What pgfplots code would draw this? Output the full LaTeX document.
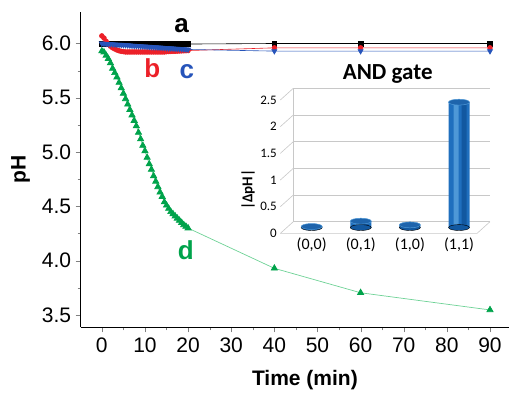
\documentclass[border=0pt]{standalone}
\usepackage{fontspec}
\setmainfont{Liberation Sans}
\newfontfamily\calfont{Carlito}
\usepackage{pgfplots}
\pgfplotsset{compat=1.18}
\definecolor{cB}{RGB}{236,32,40}
\definecolor{cC}{RGB}{38,84,186}
\definecolor{cD}{RGB}{0,163,75}
\definecolor{cDl}{RGB}{110,210,150}
\definecolor{barmain}{RGB}{31,111,190}
\definecolor{bartop}{RGB}{30,100,172}
\definecolor{barlight}{RGB}{78,152,215}
\definecolor{barright}{RGB}{18,88,160}
\definecolor{gridc}{RGB}{200,200,200}
\begin{document}
\begin{tikzpicture}
\path[use as bounding box] (-80.7pt,-66.7pt) rectangle (430.3pt,327.3pt);
\begin{axis}[
  at={(0,0)}, anchor=south west,
  scale only axis, width=428.7pt, height=315.3pt,
  xmin=-4.9, xmax=94.5, ymin=3.387, ymax=6.29,
  axis lines*=left,
  tick align=outside,
  xtick={0,10,...,90}, minor x tick num=1,
  ytick={3.5,4,4.5,5,5.5,6}, minor y tick num=1,
  major tick length=5pt, minor tick length=3pt,
  /pgf/number format/assume math mode=true,
  ticklabel style={font=\fontsize{21}{21}\selectfont},
  xticklabel style={yshift=-2pt},
  yticklabel style={xshift=-1pt, /pgf/number format/.cd, fixed, fixed zerofill, precision=1},
  xlabel={Time (min)}, ylabel={pH},
  label style={font=\fontsize{21}{21}\selectfont\bfseries},
  xlabel style={at={(axis description cs:0.523,0)}, anchor=center, yshift=-52.7pt},
  ylabel style={at={(axis description cs:-0.1405,0.5)}, anchor=center},
  clip=false,
]
% d
\addplot[color=cDl, line width=0.7pt, mark=triangle*, mark size=3.6pt, mark options={fill=cD, draw=cD}] coordinates {
(0,5.93)(0.5,5.92)(1,5.89)(1.5,5.86)(2,5.82)(2.5,5.77)(3,5.73)(3.5,5.69)(4,5.64)(4.5,5.59)
(5,5.54)(5.5,5.49)(6,5.44)(6.5,5.39)(7,5.34)(7.5,5.29)(8,5.24)(8.5,5.18)(9,5.12)(9.5,5.06)
(10,5.01)(10.5,4.95)(11,4.89)(11.5,4.84)(12,4.78)(12.5,4.73)(13,4.68)(13.5,4.63)(14,4.59)(14.5,4.54)
(15,4.51)(15.5,4.48)(16,4.45)(16.5,4.43)(17,4.41)(17.5,4.39)(18,4.37)(18.5,4.35)(19,4.33)(19.5,4.315)
(20,4.30)(40,3.93)(60,3.705)(90,3.547)};
% a
\addplot[color=black, line width=0.6pt, mark=square*, mark size=2.4pt, mark options={fill=black}] coordinates {
(0,5.995)(0.5,5.995)(1,5.995)(1.5,5.995)(2,5.995)(2.5,5.995)(3,5.995)(3.5,5.995)(4,5.995)(4.5,5.995)
(5,5.995)(5.5,5.995)(6,5.995)(6.5,5.995)(7,5.995)(7.5,5.995)(8,5.995)(8.5,5.995)(9,5.995)(9.5,5.995)
(10,5.995)(10.5,5.995)(11,5.995)(11.5,5.995)(12,5.995)(12.5,5.995)(13,5.995)(13.5,5.995)(14,5.995)(14.5,5.995)
(15,5.995)(15.5,5.995)(16,5.995)(16.5,5.995)(17,5.995)(17.5,5.995)(18,5.995)(18.5,5.995)(19,5.995)(19.5,5.995)
(20,5.995)(40,6.0)(60,6.0)(90,6.0)};
% b
\addplot[color=cB, line width=0.6pt, mark=*, mark size=2.4pt, mark options={fill=cB}] coordinates {
(0,6.07)(0.5,6.05)(1,6.02)(1.5,5.995)(2,5.975)(2.5,5.96)(3,5.95)(3.5,5.94)(4,5.933)(4.5,5.928)
(5,5.925)(5.5,5.922)(6,5.922)(6.5,5.922)(7,5.922)(7.5,5.922)(8,5.922)(8.5,5.922)(9,5.922)(9.5,5.922)
(10,5.922)(10.5,5.922)(11,5.922)(11.5,5.922)(12,5.922)(12.5,5.922)(13,5.922)(13.5,5.922)(14,5.922)(14.5,5.922)
(15,5.925)(15.5,5.926)(16,5.927)(16.5,5.928)(17,5.929)(17.5,5.930)(18,5.931)(18.5,5.932)(19,5.933)(19.5,5.934)
(20,5.935)(40,5.96)(60,5.96)(90,5.96)};
% c
\addplot[color=cC, line width=0.6pt, mark=triangle*, mark size=3pt, mark options={fill=cC, rotate=180}] coordinates {
(0,6.000)(0.5,5.999)(1,5.997)(1.5,5.996)(2,5.995)(2.5,5.993)(3,5.992)(3.5,5.990)(4,5.989)(4.5,5.988)
(5,5.986)(5.5,5.985)(6,5.984)(6.5,5.982)(7,5.981)(7.5,5.979)(8,5.978)(8.5,5.977)(9,5.975)(9.5,5.974)
(10,5.973)(10.5,5.971)(11,5.970)(11.5,5.968)(12,5.967)(12.5,5.966)(13,5.964)(13.5,5.963)(14,5.962)(14.5,5.960)
(15,5.959)(15.5,5.957)(16,5.956)(16.5,5.955)(17,5.953)(17.5,5.952)(18,5.951)(18.5,5.949)(19,5.948)(19.5,5.946)
(20,5.945)(40,5.93)(60,5.93)(90,5.93)};
\node[font=\fontsize{26}{26}\selectfont\bfseries, text=black] at (axis cs:18.5,6.16) {a};
\node[font=\fontsize{26}{26}\selectfont\bfseries, text=cB] at (axis cs:11.7,5.77) {b};
\node[font=\fontsize{26}{26}\selectfont\bfseries, text=cC] at (axis cs:19.7,5.74) {c};
\node[font=\fontsize{26}{26}\selectfont\bfseries, text=cD] at (axis cs:19.5,4.10) {d};
\end{axis}
\begin{axis}[
  at={(212.6pt,105.6pt)}, anchor=south west,
  scale only axis, width=196.7pt, height=133.4pt,
  xmin=-0.507, xmax=3.499, ymin=0, ymax=2.5,
  axis line style={draw=none},
  major tick length=0pt,
  ymajorgrids, grid style={gridc, line width=0.6pt},
  ytick={0,0.5,1,1.5,2,2.5}, yticklabels={0,0.5,1,1.5,2,2.5},
  xtick={0,1,2,3}, xticklabels={(0,0),(0,1),(1,0),(1,1)},
  yticklabel style={font=\calfont\fontsize{13}{13}\selectfont, xshift=-13pt, yshift=-11.7pt},
  xticklabel style={font=\calfont\fontsize{16}{16}\selectfont, xshift=-6.5pt, yshift=-12.5pt},
  ylabel={|ΔpH|},
  ylabel style={font=\calfont\bfseries\fontsize{15}{15}\selectfont, at={(axis description cs:-0.23,0.24)}, anchor=center},
  title={AND gate},
  title style={font=\calfont\bfseries\fontsize{23}{23}\selectfont, at={(axis description cs:0.48,1.06)}, anchor=center},
  clip=false,
]
\draw[gridc, line width=0.6pt] (axis cs:-0.507,0) -- ++(-13pt,-11.7pt);
\draw[gridc, line width=0.6pt] (axis cs:-0.507,0.5) -- ++(-13pt,-11.7pt);
\draw[gridc, line width=0.6pt] (axis cs:-0.507,1) -- ++(-13pt,-11.7pt);
\draw[gridc, line width=0.6pt] (axis cs:-0.507,1.5) -- ++(-13pt,-11.7pt);
\draw[gridc, line width=0.6pt] (axis cs:-0.507,2) -- ++(-13pt,-11.7pt);
\draw[gridc, line width=0.6pt] (axis cs:-0.507,2.5) -- ++(-13pt,-11.7pt);
\draw[gridc, line width=0.6pt] (axis cs:-0.507,2.5) -- (axis cs:-0.507,0);
\draw[gridc, line width=0.6pt] (axis cs:-0.507,0) ++(-13pt,-11.7pt) -- ++(196.7pt,0pt) -- (axis cs:3.499,0);
\addplot[only marks, mark=*, mark size=10.5pt, mark options={yscale=0.28, fill=barright, draw=none}, xshift=-6.5pt, yshift=-5.85pt] coordinates {(0,0)(1,0)(2,0)(3,0)};
\addplot[ybar, bar width=21pt, draw=none, fill=barmain, xshift=-6.5pt, yshift=-5.85pt] coordinates {(0,0.02)(1,0.12)(2,0.05)(3,2.35)};
\addplot[ybar, bar width=5pt, bar shift=5pt, draw=none, fill=barright, xshift=-6.5pt, yshift=-5.85pt] coordinates {(0,0.02)(1,0.12)(2,0.05)(3,2.35)};
\addplot[ybar, bar width=5pt, bar shift=-3pt, draw=none, fill=barlight, xshift=-6.5pt, yshift=-5.85pt] coordinates {(0,0.02)(1,0.12)(2,0.05)(3,2.35)};
\addplot[only marks, mark=*, mark size=10.5pt, mark options={yscale=0.28, fill=bartop, draw=barlight, line width=0.5pt}, xshift=-6.5pt, yshift=-5.85pt] coordinates {(0,0.02)(1,0.12)(2,0.05)(3,2.35)};
\end{axis}
\end{tikzpicture}
\end{document}
